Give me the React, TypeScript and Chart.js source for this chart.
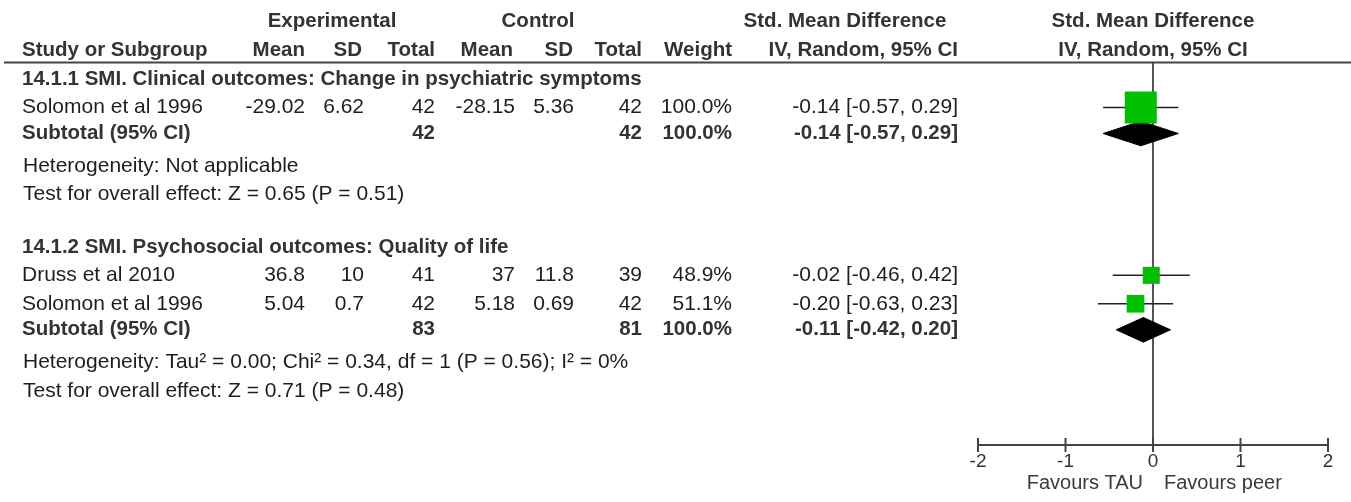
import React, { useEffect, useRef } from "react";
import { Chart, registerables } from "chart.js";

Chart.register(...registerables);

// ---------------- data ----------------
const groupTitles = [
  "14.1.1 SMI. Clinical outcomes: Change in psychiatric symptoms",
  "14.1.2 SMI. Psychosocial outcomes: Quality of life",
];
const studyNames = ["Solomon et al 1996", "Druss et al 2010", "Solomon et al 1996"];
const studyGroup = [0, 1, 1];
const expMean = [-29.02, 36.8, 5.04];
const expSD = [6.62, 10, 0.7];
const expTotal = [42, 41, 42];
const ctlMean = [-28.15, 37, 5.18];
const ctlSD = [5.36, 11.8, 0.69];
const ctlTotal = [42, 39, 42];
const studyWeight = [100.0, 48.9, 51.1];
const studySmd = [-0.14, -0.02, -0.2];
const studyLow = [-0.57, -0.46, -0.63];
const studyHigh = [0.29, 0.42, 0.23];

const subExpTotal = [42, 83];
const subCtlTotal = [42, 81];
const subWeight = [100.0, 100.0];
const subSmd = [-0.14, -0.11];
const subLow = [-0.57, -0.42];
const subHigh = [0.29, 0.2];

const heterogeneityTexts = [
  "Heterogeneity: Not applicable",
  "Heterogeneity: Tau\u00b2 = 0.00; Chi\u00b2 = 0.34, df = 1 (P = 0.56); I\u00b2 = 0%",
];
const overallTexts = [
  "Test for overall effect: Z = 0.65 (P = 0.51)",
  "Test for overall effect: Z = 0.71 (P = 0.48)",
];

const xTicks = [-2, -1, 0, 1, 2];
const favoursLeft = "Favours TAU";
const favoursRight = "Favours peer";

// ---------------- layout / style ----------------
const W = 1351;
const H = 502;
const FONT = '"Liberation Sans", Arial, sans-serif';
const REG_SIZE = 21;
const BOLD_SIZE = 20.5;
const REG_COLOR = "#1e1e1e";
const BOLD_COLOR = "#333333";
const GREEN = "#00bf00";

const GAP = {
  first: 0.6,
  study: 1,
  studyToSubtotal: 0.92,
  subtotalToHet: 1.15,
  hetToTest: 1.0,
  testToTitle: 1.85,
};
const Y_MAX = 13.5;
const DIAMOND_HALF = 0.434;

type Row = { kind: "title" | "study" | "subtotal" | "het" | "test"; group: number; idx: number; y: number };

function buildRows(): Row[] {
  const rows: Row[] = [];
  let y = GAP.first;
  groupTitles.forEach((_, g) => {
    if (g > 0) y += GAP.testToTitle;
    rows.push({ kind: "title", group: g, idx: -1, y });
    studyGroup.forEach((sg, i) => {
      if (sg !== g) return;
      y += GAP.study;
      rows.push({ kind: "study", group: g, idx: i, y });
    });
    y += GAP.studyToSubtotal;
    rows.push({ kind: "subtotal", group: g, idx: -1, y });
    y += GAP.subtotalToHet;
    rows.push({ kind: "het", group: g, idx: -1, y });
    y += GAP.hetToTest;
    rows.push({ kind: "test", group: g, idx: -1, y });
  });
  return rows;
}

// column right edges (table)
const COL = {
  name: 22,
  expMean: 305,
  expSD: 364,
  expTotal: 435,
  ctlMean: 515,
  ctlSD: 574,
  ctlTotal: 642,
  weight: 732,
  ci: 958,
};

const fmtCI = (e: number, l: number, h: number) => `${e.toFixed(2)} [${l.toFixed(2)}, ${h.toFixed(2)}]`;

function drawText(
  ctx: CanvasRenderingContext2D,
  s: string,
  x: number,
  y: number,
  align: CanvasTextAlign,
  bold: boolean,
  size?: number,
  color?: string
) {
  const sz = size ?? (bold ? BOLD_SIZE : REG_SIZE);
  ctx.font = `${bold ? "bold " : ""}${sz}px ${FONT}`;
  ctx.textAlign = align;
  ctx.textBaseline = "middle";
  ctx.fillStyle = color ?? (bold ? BOLD_COLOR : REG_COLOR);
  ctx.fillText(s, x, y);
}

export default function App() {
  const ref = useRef<HTMLCanvasElement>(null);

  useEffect(() => {
    if (!ref.current) return;
    const rows = buildRows();
    const studyRows = rows.filter((r) => r.kind === "study");
    const subRows = rows.filter((r) => r.kind === "subtotal");

    const squareSide = (w: number) => 32 * Math.pow(w / 100, 0.88);

    const datasets: any[] = [];
    // squares (first => drawn on top)
    datasets.push({
      label: "studies",
      data: studyRows.map((r) => ({ x: studySmd[r.idx], y: r.y })),
      pointStyle: "rect",
      pointRadius: studyRows.map((r) => squareSide(studyWeight[r.idx]) / Math.SQRT2),
      pointBackgroundColor: GREEN,
      pointBorderWidth: 0,
      pointBorderColor: GREEN,
      showLine: false,
    });
    // diamonds
    subRows.forEach((r) => {
      const g = r.group;
      datasets.push({
        label: "subtotal" + g,
        data: [
          { x: subLow[g], y: r.y },
          { x: subSmd[g], y: r.y - DIAMOND_HALF },
          { x: subHigh[g], y: r.y },
          { x: subSmd[g], y: r.y + DIAMOND_HALF },
          { x: subLow[g], y: r.y },
        ],
        showLine: true,
        fill: "shape",
        backgroundColor: "#000000",
        borderColor: "#000000",
        borderWidth: 1,
        pointRadius: 0,
        tension: 0,
      });
    });
    // whiskers
    studyRows.forEach((r) => {
      datasets.push({
        label: "ci" + r.idx,
        data: [
          { x: studyLow[r.idx], y: r.y },
          { x: studyHigh[r.idx], y: r.y },
        ],
        showLine: true,
        fill: false,
        borderColor: "#222222",
        borderWidth: 1.5,
        pointRadius: 0,
      });
    });

    const tablePlugin = {
      id: "forestTable",
      afterDraw(chart: any) {
        const ctx: CanvasRenderingContext2D = chart.ctx;
        const area = chart.chartArea;
        const xs = chart.scales.x;
        const ys = chart.scales.y;
        ctx.save();

        // header rule
        ctx.strokeStyle = "#444";
        ctx.lineWidth = 2;
        ctx.beginPath();
        ctx.moveTo(4, area.top + 0.5);
        ctx.lineTo(W, area.top + 0.5);
        ctx.stroke();

        // ticks crossing the axis
        ctx.strokeStyle = "#444";
        ctx.lineWidth = 2;
        xTicks.forEach((v) => {
          const px = xs.getPixelForValue(v);
          ctx.beginPath();
          ctx.moveTo(px, area.bottom - 7);
          ctx.lineTo(px, area.bottom + 7);
          ctx.stroke();
        });

        // headers
        const h1 = area.top - 41;
        const h2 = area.top - 12;
        const zeroX = xs.getPixelForValue(0);
        drawText(ctx, "Experimental", 332, h1, "center", true);
        drawText(ctx, "Control", 538, h1, "center", true);
        drawText(ctx, "Std. Mean Difference", 845, h1, "center", true);
        drawText(ctx, "Std. Mean Difference", zeroX, h1, "center", true);
        drawText(ctx, "Study or Subgroup", COL.name, h2, "left", true);
        drawText(ctx, "Mean", COL.expMean, h2, "right", true);
        drawText(ctx, "SD", 362, h2, "right", true);
        drawText(ctx, "Total", COL.expTotal, h2, "right", true);
        drawText(ctx, "Mean", 513, h2, "right", true);
        drawText(ctx, "SD", 573, h2, "right", true);
        drawText(ctx, "Total", COL.ctlTotal, h2, "right", true);
        drawText(ctx, "Weight", COL.weight, h2, "right", true);
        drawText(ctx, "IV, Random, 95% CI", COL.ci, h2, "right", true);
        drawText(ctx, "IV, Random, 95% CI", zeroX, h2, "center", true);

        rows.forEach((r) => {
          const py = ys.getPixelForValue(r.y);
          const g = r.group;
          if (r.kind === "title") {
            drawText(ctx, groupTitles[g], COL.name, py, "left", true);
          } else if (r.kind === "study") {
            const i = r.idx;
            drawText(ctx, studyNames[i], COL.name, py, "left", false);
            drawText(ctx, String(expMean[i]), COL.expMean, py, "right", false);
            drawText(ctx, String(expSD[i]), COL.expSD, py, "right", false);
            drawText(ctx, String(expTotal[i]), COL.expTotal, py, "right", false);
            drawText(ctx, String(ctlMean[i]), COL.ctlMean, py, "right", false);
            drawText(ctx, String(ctlSD[i]), COL.ctlSD, py, "right", false);
            drawText(ctx, String(ctlTotal[i]), COL.ctlTotal, py, "right", false);
            drawText(ctx, studyWeight[i].toFixed(1) + "%", COL.weight, py, "right", false);
            drawText(ctx, fmtCI(studySmd[i], studyLow[i], studyHigh[i]), COL.ci, py, "right", false);
          } else if (r.kind === "subtotal") {
            drawText(ctx, "Subtotal (95% CI)", COL.name, py, "left", true);
            drawText(ctx, String(subExpTotal[g]), COL.expTotal, py, "right", true);
            drawText(ctx, String(subCtlTotal[g]), COL.ctlTotal, py, "right", true);
            drawText(ctx, subWeight[g].toFixed(1) + "%", COL.weight, py, "right", true);
            drawText(ctx, fmtCI(subSmd[g], subLow[g], subHigh[g]), COL.ci, py, "right", true);
          } else if (r.kind === "het") {
            drawText(ctx, heterogeneityTexts[g], COL.name + 1, py, "left", false);
          } else if (r.kind === "test") {
            drawText(ctx, overallTexts[g], COL.name + 1, py, "left", false);
          }
        });

        // favours labels
        const fy = area.bottom + 38;
        drawText(ctx, favoursLeft, zeroX - 10, fy, "right", false, 20, "#3a3a3a");
        drawText(ctx, favoursRight, zeroX + 11, fy, "left", false, 20, "#3a3a3a");

        ctx.restore();
      },
    };

    const chart = new Chart(ref.current, {
      type: "scatter",
      data: { datasets },
      options: {
        animation: false,
        responsive: false,
        maintainAspectRatio: false,
        devicePixelRatio: 1,
        layout: { padding: { left: 978, right: 23, top: 62, bottom: 22 } },
        plugins: { legend: { display: false }, tooltip: { enabled: false } },
        events: [],
        scales: {
          x: {
            type: "linear",
            min: -2,
            max: 2,
            afterFit: (s: any) => {
              s.height = 35;
            },
            afterBuildTicks: (s: any) => {
              s.ticks = xTicks.map((v) => ({ value: v }));
            },
            ticks: {
              padding: 5,
              color: "#333",
              font: { family: FONT, size: 19 },
              callback: (v: any) => String(v),
            },
            grid: {
              drawTicks: false,
              drawOnChartArea: true,
              lineWidth: 2,
              color: (c: any) => (c.tick && c.tick.value === 0 ? "#555" : "rgba(0,0,0,0)"),
            },
            border: { display: true, color: "#444", width: 2 },
          },
          y: {
            type: "linear",
            display: false,
            reverse: true,
            min: 0,
            max: Y_MAX,
          },
        },
      } as any,
      plugins: [tablePlugin],
    });
    return () => chart.destroy();
  }, []);

  return (
    <div style={{ position: "fixed", left: 0, top: 0, width: W, height: H, background: "#fff" }}>
      <canvas ref={ref} width={W} height={H} style={{ display: "block", width: W, height: H }} />
    </div>
  );
}
